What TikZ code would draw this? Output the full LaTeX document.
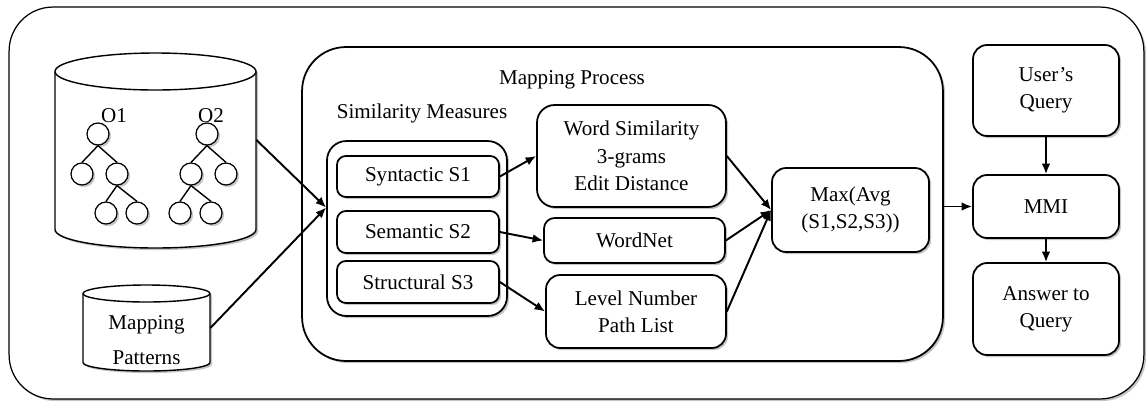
\documentclass[tikz,border=0pt]{standalone}
\usepackage{fontspec}
\setmainfont{Liberation Serif}
\usetikzlibrary{arrows.meta,shadows}

\tikzset{
  boxshadow/.style={drop shadow={shadow xshift=1.2pt, shadow yshift=-1.2pt, fill=black!45, opacity=0.5}},
  box/.style={draw, line width=1pt, fill=white, align=center, inner sep=1pt, rounded corners=#1, boxshadow},
  box/.default=5pt,
  leaf/.style={circle, draw, line width=0.7pt, fill=white, minimum size=0.44cm, inner sep=0pt, boxshadow},
  dbline/.style={draw, line width=0.8pt, fill=white, boxshadow},
  arr/.style={-{Latex[length=6pt,width=5pt]}, line width=1.1pt},
  txt/.style={font=\fontsize{12}{15.5}\selectfont, align=center}
}

\begin{document}
\begin{tikzpicture}[x=0.02cm, y=0.02cm, every node/.style={txt}]
\useasboundingbox (0,0) rectangle (1147,-407);

% outer frame
\node[box=25pt, line width=0.7pt, minimum width=22.7cm, minimum height=7.84cm] (frame) at (576.5,-203) {};

% ontology store
\path[dbline] (55,-71.5) -- (55,-229.5) arc[start angle=180, end angle=360, x radius=100.5, y radius=18.5]
  -- (256,-71.5) arc[start angle=0, end angle=180, x radius=100.5, y radius=18.5] -- cycle;
\draw[line width=0.8pt] (55,-71.5) arc[start angle=180, end angle=360, x radius=100.5, y radius=18.5];
\node[minimum width=4.02cm, minimum height=3.16cm] (onto) at (155.5,-150.5) {};

\node (o1lbl) at (114,-116) {O1};
\node (o2lbl) at (211,-116) {O2};
\foreach \n/\x/\y in {o1r/98/134, o1a/82/174, o1b/117/174, o1c/106/213, o1d/137/213,
                      o2r/207/134, o2a/191/174, o2b/226/174, o2c/180/213, o2d/211/213}
  \node[leaf] (\n) at (\x,-\y) {};
\foreach \p/\c in {o1r/o1a, o1r/o1b, o1b/o1c, o1b/o1d, o2r/o2a, o2r/o2b, o2a/o2c, o2a/o2d}
  \draw[line width=0.8pt] (\p.south) -- (\c.north);

% pattern store
\path[dbline] (83,-293.5) -- (83,-362.5) arc[start angle=180, end angle=360, x radius=63.5, y radius=8.5]
  -- (210,-293.5) arc[start angle=0, end angle=180, x radius=63.5, y radius=8.5] -- cycle;
\draw[line width=0.8pt] (83,-293.5) arc[start angle=180, end angle=360, x radius=63.5, y radius=8.5];
\node[minimum width=2.54cm, minimum height=1.38cm] (pat) at (146.5,-328) {};
\node[font=\fontsize{12}{20}\selectfont] (pattxt) at (146.5,-340) {Mapping\\Patterns};

% mapping process
\node[box=25pt, minimum width=12.82cm, minimum height=6.28cm] (mapproc) at (622.5,-204) {};
\node (maplbl) at (572,-80) {Mapping Process};
\node (simlbl) at (422,-113) {Similarity Measures};

\node[box=11pt, minimum width=3.6cm, minimum height=3.5cm] (simbox) at (417,-228.5) {};
\node[box=5pt, minimum width=3.24cm, minimum height=0.82cm] (syn) at (418,-176.5) {Syntactic S1};
\node[box=5pt, minimum width=3.24cm, minimum height=0.84cm] (sem) at (418,-232) {Semantic S2};
\node[box=5pt, minimum width=3.24cm, minimum height=0.84cm] (str) at (418,-282) {Structural S3};

\node[box=10pt, minimum width=3.78cm, minimum height=2.04cm] (ws) at (631.5,-156) {Word Similarity\\3-grams\\Edit Distance};
\node[box=6pt, minimum width=3.62cm, minimum height=0.9cm] (wn) at (634.5,-240.5) {WordNet};
\node[box=8pt, minimum width=3.6cm, minimum height=1.46cm] (lvl) at (636,-311.5) {Level Number\\Path List};

\node[box=8pt, minimum width=3.14cm, minimum height=1.68cm] (max) at (850.5,-210) {Max(Avg\\(S1,S2,S3))};

% query side
\node[box=8pt, minimum width=2.92cm, minimum height=1.82cm] (uq) at (1046,-90.5) {User’s\\Query};
\node[box=8pt, minimum width=2.92cm, minimum height=1.26cm] (mmi) at (1046,-206.5) {MMI};
\node[box=8pt, minimum width=2.92cm, minimum height=1.84cm] (ans) at (1046,-309) {Answer to\\Query};

% connectors
\draw[arr] (onto.6) -- (simbox.167);
\draw[arr] (pat.east) -- (simbox.167);
\draw[arr] (syn.east) -- (ws.west);
\draw[arr] (sem.east) -- (wn.west);
\draw[arr] (str.east) -- (lvl.west);
\draw[arr] (ws.east) -- (max.west);
\draw[arr] (wn.east) -- (max.west);
\draw[arr] (lvl.east) -- (max.west);
\draw[arr] (mapproc.east |- mmi.west) -- (mmi.west);
\draw[arr] (uq.south) -- (mmi.north);
\draw[arr] (mmi.south) -- (ans.north);
\end{tikzpicture}
\end{document}
